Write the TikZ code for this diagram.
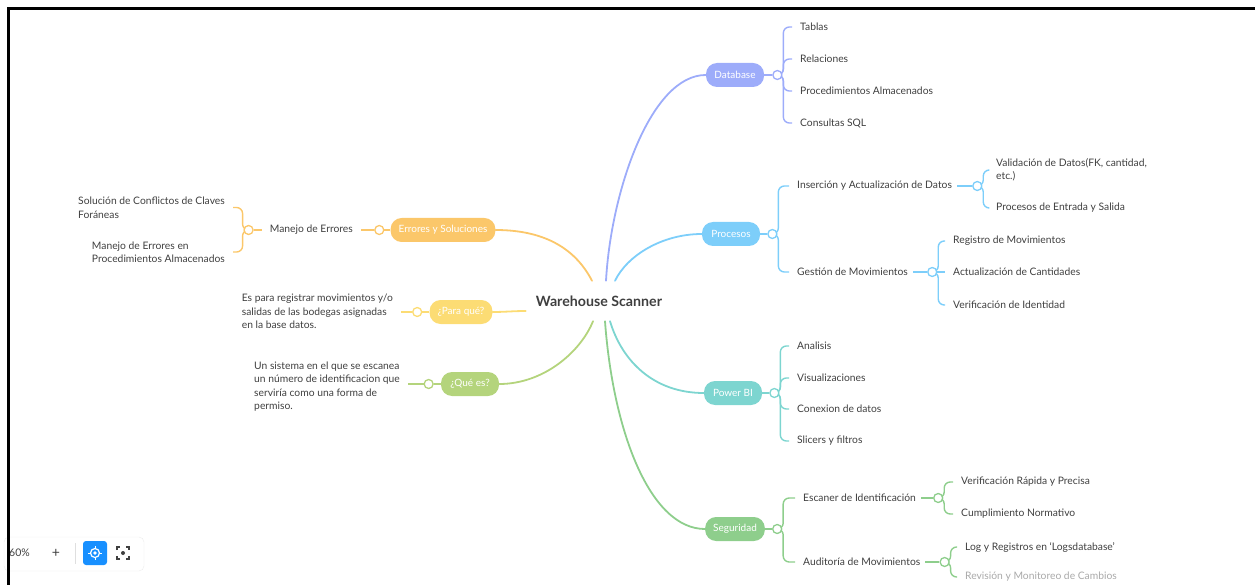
\documentclass[tikz,border=0pt]{standalone}
\usepackage{fontspec}
\setmainfont{Lato}
\usetikzlibrary{positioning, calc, backgrounds}
\definecolor{clavanda}{HTML}{9DACFA}
\definecolor{ccielo}{HTML}{7DCEFA}
\definecolor{cturquesa}{HTML}{7DD5D0}
\definecolor{cverde}{HTML}{8ECE8C}
\definecolor{cnaranja}{HTML}{FBC76A}
\definecolor{camarillo}{HTML}{FCDC74}
\definecolor{clima}{HTML}{B4D47C}
\definecolor{ctexto}{HTML}{3F3F3F}
\definecolor{cboton}{HTML}{1890FF}
\tikzset{
  rama/.style={rectangle, rounded corners=11pt, fill=#1, text=white, font=\fontsize{10}{12}\selectfont,
               minimum height=24pt, minimum width=58pt, inner xsep=8pt},
  hoja/.style={font=\fontsize{10.3}{13.5}\selectfont, text=ctexto, inner xsep=8pt, inner ysep=1pt, align=left},
  nudo/.style={circle, draw=#1, fill=white, line width=1.3pt, minimum size=9pt, inner sep=0pt},
  linea/.style={draw=#1, line width=1.8pt, line cap=round},
  sublinea/.style={draw=#1, line width=1.4pt, rounded corners=6pt},
}

\begin{document}
\begin{tikzpicture}[x=1pt, y=-1pt]
        \useasboundingbox (0,0) rectangle (1255,585);
        \node[font=\fontsize{14.2}{16}\selectfont\bfseries, text=ctexto, minimum height=40pt, inner xsep=10pt] (ws) at (599,301) {Warehouse Scanner};

        % Database
        \node[rama=clavanda] (db) at (735,75) {Database};
        \node[nudo=clavanda, right=8pt of db] (dbp) {};
        \node[hoja, anchor=west] (tab) at (792,27) {Tablas};
        \node[hoja, anchor=west] (rel) at (792,59) {Relaciones};
        \node[hoja, anchor=west] (pa) at (792,91) {Procedimientos Almacenados};
        \node[hoja, anchor=west] (sql) at (792,123) {Consultas SQL};

        % Procesos
        \node[rama=ccielo] (proc) at (731,234) {Procesos};
        \node[nudo=ccielo, right=7pt of proc] (procp) {};
        \node[hoja, anchor=west] (ins) at (789,186) {Inserción y Actualización de Datos};
        \node[nudo=ccielo, right=12pt of ins] (insp) {};
        \node[hoja, anchor=west] (val) at (988,170) {Validación de Datos(FK, cantidad,\\etc.)};
        \node[hoja, anchor=west] (pes) at (988,208) {Procesos de Entrada y Salida};
        \node[hoja, anchor=west] (ges) at (789,272) {Gestión de Movimientos};
        \node[nudo=ccielo, right=11pt of ges] (gesp) {};
        \node[hoja, anchor=west] (reg) at (945,241) {Registro de Movimientos};
        \node[hoja, anchor=west] (act) at (945,272) {Actualización de Cantidades};
        \node[hoja, anchor=west] (ver) at (945,305) {Verificación de Identidad};

        % Power BI
        \node[rama=cturquesa] (pbi) at (733,393) {Power BI};
        \node[nudo=cturquesa, right=7pt of pbi] (pbip) {};
        \node[hoja, anchor=west] (ana) at (789,346) {Analisis};
        \node[hoja, anchor=west] (vis) at (789,378) {Visualizaciones};
        \node[hoja, anchor=west] (con) at (789,409) {Conexion de datos};
        \node[hoja, anchor=west] (sli) at (789,441) {Slicers y filtros};

        % Seguridad
        \node[rama=cverde] (seg) at (735,529) {Seguridad};
        \node[nudo=cverde, right=7pt of seg] (segp) {};
        \node[hoja, anchor=west] (esc) at (795,498) {Escaner de Identificación};
        \node[nudo=cverde, right=9pt of esc] (escp) {};
        \node[hoja, anchor=west] (vrp) at (953,482) {Verificación Rápida y Precisa};
        \node[hoja, anchor=west] (cum) at (953,514) {Cumplimiento Normativo};
        \node[hoja, anchor=west] (aud) at (795,562) {Auditoría de Movimientos};
        \node[nudo=cverde, right=11pt of aud] (audp) {};
        \node[hoja, anchor=west] (log) at (957,547) {Log y Registros en `Logsdatabase'};
        \node[hoja, anchor=west, text=ctexto!45] (rev) at (957,577) {Revisión y Monitoreo de Cambios};

        % Errores y Soluciones
        \node[rama=cnaranja] (err) at (443,230) {Errores y Soluciones};
        \node[nudo=cnaranja, left=6pt of err] (errp) {};
        \node[hoja, anchor=east] (me) at (361,230) {Manejo de Errores};
        \node[nudo=cnaranja, left=8pt of me] (mep) {};
        \node[hoja, anchor=east] (sol) at (233,207.5) {Solución de Conflictos de Claves\\Foráneas};
        \node[hoja, anchor=east] (mepa) at (233,252) {Manejo de Errores en\\Procedimientos Almacenados};

        % ¿Para qué?
        \node[rama=camarillo] (pq) at (461,312) {¿Para qué?};
        \node[nudo=camarillo, left=7pt of pq] (pqp) {};
        \node[hoja, anchor=east] (pqt) at (401,311.5) {Es para registrar movimientos y/o\\salidas de las bodegas asignadas\\en la base datos.};

        % ¿Qué es?
        \node[rama=clima] (qe) at (470,384) {¿Qué es?};
        \node[nudo=clima, left=7pt of qe] (qep) {};
        \node[hoja, anchor=east] (qet) at (408,386.5) {Un sistema en el que se escanea\\un número de identificacion que\\serviría como una forma de\\permiso.};

        \begin{scope}[on background layer]
          % ramas principales
          \draw[linea=cnaranja] ([xshift=-7pt]ws.north) .. controls +(-18,-35) and +(45,0) .. (err.east);
          \draw[linea=clavanda] ([xshift=7pt]ws.north) .. controls +(5,-90) and +(-55,0) .. (db.west);
          \draw[linea=ccielo] ([xshift=16pt]ws.north) .. controls +(12,-25) and +(-40,0) .. (proc.west);
          \draw[linea=camarillo] ([yshift=-10pt]ws.west) .. controls +(-12,0) and +(12,0) .. (pq.east);
          \draw[linea=clima] ([xshift=-6pt]ws.south) .. controls +(-12,30) and +(45,0) .. (qe.east);
          \draw[linea=cverde] ([xshift=6pt]ws.south) .. controls +(8,110) and +(-55,0) .. (seg.west);
          \draw[linea=cturquesa] ([xshift=11pt]ws.south) .. controls +(12,40) and +(-50,0) .. (pbi.west);

          % Database
          \draw[sublinea=clavanda] (db) -- (dbp);
          \draw[sublinea=clavanda] (dbp.center) -- ++(6,0) |- (tab.west);
          \draw[sublinea=clavanda] (dbp.center) -- ++(6,0) |- (rel.west);
          \draw[sublinea=clavanda] (dbp.center) -- ++(6,0) |- (pa.west);
          \draw[sublinea=clavanda] (dbp.center) -- ++(6,0) |- (sql.west);

          % Procesos
          \draw[sublinea=ccielo] (proc) -- (procp);
          \draw[sublinea=ccielo] (procp.center) -- ++(6,0) |- (ins.west);
          \draw[sublinea=ccielo] (procp.center) -- ++(6,0) |- (ges.west);
          \draw[sublinea=ccielo] ([xshift=-3pt]ins.east) -- (insp);
          \draw[sublinea=ccielo] (insp.center) -- ++(6,0) |- (val.west);
          \draw[sublinea=ccielo] (insp.center) -- ++(6,0) |- (pes.west);
          \draw[sublinea=ccielo] ([xshift=-3pt]ges.east) -- (gesp);
          \draw[sublinea=ccielo] (gesp.center) -- ++(6,0) |- (reg.west);
          \draw[sublinea=ccielo] (gesp) -- (act.west);
          \draw[sublinea=ccielo] (gesp.center) -- ++(6,0) |- (ver.west);

          % Power BI
          \draw[sublinea=cturquesa] (pbi) -- (pbip);
          \draw[sublinea=cturquesa] (pbip.center) -- ++(6,0) |- (ana.west);
          \draw[sublinea=cturquesa] (pbip.center) -- ++(6,0) |- (vis.west);
          \draw[sublinea=cturquesa] (pbip.center) -- ++(6,0) |- (con.west);
          \draw[sublinea=cturquesa] (pbip.center) -- ++(6,0) |- (sli.west);

          % Seguridad
          \draw[sublinea=cverde] (seg) -- (segp);
          \draw[sublinea=cverde] (segp.center) -- ++(6,0) |- (esc.west);
          \draw[sublinea=cverde] (segp.center) -- ++(6,0) |- (aud.west);
          \draw[sublinea=cverde] ([xshift=-3pt]esc.east) -- (escp);
          \draw[sublinea=cverde] (escp.center) -- ++(6,0) |- (vrp.west);
          \draw[sublinea=cverde] (escp.center) -- ++(6,0) |- (cum.west);
          \draw[sublinea=cverde] ([xshift=-3pt]aud.east) -- (audp);
          \draw[sublinea=cverde] (audp.center) -- ++(6,0) |- (log.west);
          \draw[sublinea=cverde] (audp.center) -- ++(6,0) |- (rev.west);

          % lado izquierdo
          \draw[sublinea=cnaranja] (err) -- (errp);
          \draw[sublinea=cnaranja] (errp) -- (me.east);
          \draw[sublinea=cnaranja] (mep) -- (me.west);
          \draw[sublinea=cnaranja] (mep.center) -- ++(-6,0) |- (sol.east);
          \draw[sublinea=cnaranja] (mep.center) -- ++(-6,0) |- (mepa.east);
          \draw[sublinea=camarillo] (pq) -- (pqp);
          \draw[sublinea=camarillo] (pqp) -- (pqp -| pqt.east);
          \draw[sublinea=clima] (qe) -- (qep);
          \draw[sublinea=clima] (qep) -- (qep -| qet.east);
        \end{scope}

        % barra de zoom
        \draw[gray!15, fill=white, rounded corners=5pt] (4,537) rectangle (144,571);
        \node[font=\fontsize{10.5}{12}\selectfont, text=ctexto, anchor=west, inner sep=0pt] (zoom) at (9,553) {60\%};
        \node[font=\fontsize{14}{14}\selectfont, text=ctexto, inner sep=0pt] (mas) at (56,553) {+};
        \draw[gray!25] (75,543) -- (75,564);
        \fill[cboton, rounded corners=3pt] (83,541) rectangle (107,565);
        \draw[white, line width=1.2pt] (95,553) circle (4.5);
        \fill[white] (95,553) circle (1.8);
        \draw[white, line width=1pt] (95,546) -- (95,548.5) (95,557.5) -- (95,560) (88,553) -- (90.5,553) (99.5,553) -- (102,553);
        \draw[ctexto, line width=1.2pt] (117,550) -- (117,547) -- (120,547) (126,547) -- (129,547) -- (129,550)
              (129,556) -- (129,559) -- (126,559) (120,559) -- (117,559) -- (117,556);
        \fill[ctexto] (123,553) circle (2);

        % marco
        \draw[line width=3pt] (8,586) -- (8,8.5) -- (1256,8.5);
\end{tikzpicture}
\end{document}
